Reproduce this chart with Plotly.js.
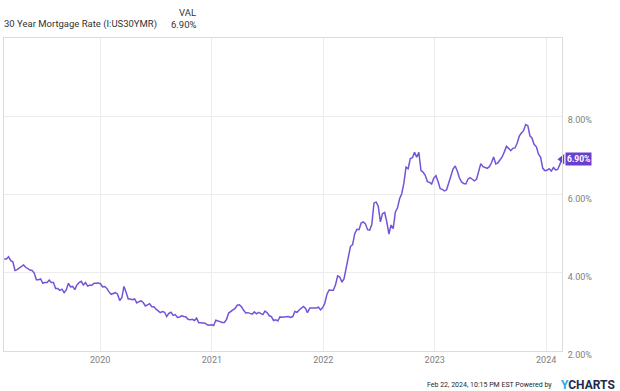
<!DOCTYPE html>
<html>
<head>
<meta charset="utf-8">
<script src="https://cdn.plot.ly/plotly-3.0.1.min.js"></script>
<style>
html,body{margin:0;padding:0;background:#fff;}
#chart{width:620px;height:391px;}
</style>
</head>
<body>
<div id="chart"></div>
<script>
// Weekly 30 Year Mortgage Rate (%), Feb 2019 - Feb 2024
const dates2019 = ["2019-02-21","2019-02-28","2019-03-07","2019-03-14","2019-03-21","2019-03-28","2019-04-04","2019-04-11","2019-04-18","2019-04-25","2019-05-02","2019-05-09","2019-05-16","2019-05-23","2019-05-30","2019-06-06","2019-06-13","2019-06-20","2019-06-27","2019-07-03","2019-07-11","2019-07-18","2019-07-25","2019-08-01","2019-08-08","2019-08-15","2019-08-22","2019-08-29","2019-09-05","2019-09-12","2019-09-19","2019-09-26","2019-10-03","2019-10-10","2019-10-17","2019-10-24","2019-10-31","2019-11-07","2019-11-14","2019-11-21","2019-11-27","2019-12-05","2019-12-12","2019-12-19","2019-12-26"];
const rates2019 = [4.35,4.35,4.41,4.31,4.28,4.06,4.08,4.12,4.17,4.20,4.14,4.10,4.07,4.06,3.99,3.82,3.82,3.84,3.73,3.75,3.75,3.81,3.75,3.75,3.60,3.60,3.55,3.58,3.49,3.56,3.73,3.64,3.65,3.57,3.69,3.75,3.78,3.69,3.75,3.66,3.68,3.68,3.73,3.73,3.74];

const dates2020 = ["2020-01-02","2020-01-09","2020-01-16","2020-01-23","2020-01-30","2020-02-06","2020-02-13","2020-02-20","2020-02-27","2020-03-05","2020-03-12","2020-03-19","2020-03-26","2020-04-02","2020-04-09","2020-04-16","2020-04-23","2020-04-30","2020-05-07","2020-05-14","2020-05-21","2020-05-28","2020-06-04","2020-06-11","2020-06-18","2020-06-25","2020-07-02","2020-07-09","2020-07-16","2020-07-23","2020-07-30","2020-08-06","2020-08-13","2020-08-20","2020-08-27","2020-09-03","2020-09-10","2020-09-17","2020-09-24","2020-10-01","2020-10-08","2020-10-15","2020-10-22","2020-10-29","2020-11-05","2020-11-12","2020-11-19","2020-11-25","2020-12-03","2020-12-10","2020-12-17","2020-12-23","2020-12-30"];
const rates2020 = [3.72,3.64,3.65,3.60,3.51,3.45,3.47,3.49,3.45,3.29,3.36,3.65,3.50,3.33,3.33,3.31,3.33,3.23,3.26,3.28,3.24,3.15,3.18,3.21,3.13,3.13,3.07,3.03,2.98,3.01,2.99,2.88,2.96,2.99,2.91,2.93,2.86,2.87,2.90,2.88,2.87,2.81,2.80,2.81,2.78,2.84,2.72,2.72,2.71,2.71,2.67,2.66,2.67];

const dates2021 = ["2021-01-07","2021-01-14","2021-01-21","2021-01-28","2021-02-04","2021-02-11","2021-02-18","2021-02-25","2021-03-04","2021-03-11","2021-03-18","2021-03-25","2021-04-01","2021-04-08","2021-04-15","2021-04-22","2021-04-29","2021-05-06","2021-05-13","2021-05-20","2021-05-27","2021-06-03","2021-06-10","2021-06-17","2021-06-24","2021-07-01","2021-07-08","2021-07-15","2021-07-22","2021-07-29","2021-08-05","2021-08-12","2021-08-19","2021-08-26","2021-09-02","2021-09-09","2021-09-16","2021-09-23","2021-09-30","2021-10-07","2021-10-14","2021-10-21","2021-10-28","2021-11-04","2021-11-10","2021-11-18","2021-11-24","2021-12-02","2021-12-09","2021-12-16","2021-12-23","2021-12-30"];
const rates2021 = [2.65,2.79,2.77,2.73,2.73,2.73,2.81,2.97,3.02,3.05,3.09,3.17,3.18,3.13,3.04,2.97,2.98,2.96,2.94,3.00,2.95,2.99,2.96,2.93,3.02,2.98,2.90,2.88,2.78,2.80,2.77,2.87,2.86,2.87,2.87,2.88,2.86,2.88,3.01,2.99,3.05,3.09,3.14,3.09,2.98,3.10,3.10,3.11,3.10,3.12,3.05,3.11];

const dates2022 = ["2022-01-06","2022-01-13","2022-01-20","2022-01-27","2022-02-03","2022-02-10","2022-02-17","2022-02-24","2022-03-03","2022-03-10","2022-03-17","2022-03-24","2022-03-31","2022-04-07","2022-04-14","2022-04-21","2022-04-28","2022-05-05","2022-05-12","2022-05-19","2022-05-26","2022-06-02","2022-06-09","2022-06-16","2022-06-23","2022-06-30","2022-07-07","2022-07-14","2022-07-21","2022-07-28","2022-08-04","2022-08-11","2022-08-18","2022-08-25","2022-09-01","2022-09-08","2022-09-15","2022-09-22","2022-09-29","2022-10-06","2022-10-13","2022-10-20","2022-10-27","2022-11-03","2022-11-10","2022-11-17","2022-11-23","2022-12-01","2022-12-08","2022-12-15","2022-12-22","2022-12-29"];
const rates2022 = [3.22,3.45,3.56,3.55,3.55,3.69,3.92,3.89,3.76,3.85,4.16,4.42,4.67,4.72,5.00,5.11,5.10,5.27,5.30,5.25,5.10,5.09,5.23,5.78,5.81,5.70,5.30,5.51,5.54,5.30,4.99,5.22,5.13,5.55,5.66,5.89,6.02,6.29,6.70,6.66,6.92,6.94,7.08,6.95,7.08,6.61,6.58,6.49,6.33,6.31,6.27,6.42];

const dates2023 = ["2023-01-05","2023-01-12","2023-01-19","2023-01-26","2023-02-02","2023-02-09","2023-02-16","2023-02-23","2023-03-02","2023-03-09","2023-03-16","2023-03-23","2023-03-30","2023-04-06","2023-04-13","2023-04-20","2023-04-27","2023-05-04","2023-05-11","2023-05-18","2023-05-25","2023-06-01","2023-06-08","2023-06-15","2023-06-22","2023-06-29","2023-07-06","2023-07-13","2023-07-20","2023-07-27","2023-08-03","2023-08-10","2023-08-17","2023-08-24","2023-08-31","2023-09-07","2023-09-14","2023-09-21","2023-09-28","2023-10-05","2023-10-12","2023-10-19","2023-10-26","2023-11-02","2023-11-09","2023-11-16","2023-11-22","2023-11-30","2023-12-07","2023-12-14","2023-12-21","2023-12-28"];
const rates2023 = [6.48,6.33,6.15,6.13,6.09,6.12,6.32,6.50,6.65,6.73,6.60,6.42,6.32,6.28,6.27,6.39,6.43,6.39,6.35,6.39,6.57,6.79,6.71,6.69,6.67,6.71,6.81,6.96,6.78,6.81,6.90,6.96,7.09,7.23,7.18,7.12,7.18,7.19,7.31,7.49,7.57,7.63,7.79,7.76,7.50,7.44,7.29,7.22,7.03,6.95,6.67,6.61];

const dates2024 = ["2024-01-04","2024-01-11","2024-01-18","2024-01-25","2024-02-01","2024-02-08","2024-02-15","2024-02-22"];
const rates2024 = [6.62,6.66,6.60,6.69,6.63,6.64,6.77,6.90];

const yTicks = [2, 4, 6, 8];
const seriesName = "30 Year Mortgage Rate (I:US30YMR)";
const footerText = "Feb 22, 2024, 10:15 PM EST Powered by";

const dates = [].concat(dates2019, dates2020, dates2021, dates2022, dates2023, dates2024);
const rates = [].concat(rates2019, rates2020, rates2021, rates2022, rates2023, rates2024);
const lastDate = dates[dates.length - 1];
const lastRate = rates[rates.length - 1];
const lastLabel = lastRate.toFixed(2) + "%";

const lineColor = "#7453d8";
const badgeColor = "#6a3fce";

const traces = [
  {
    x: dates, y: rates, type: "scatter", mode: "lines",
    line: {color: lineColor, width: 1.5},
    hoverinfo: "skip", showlegend: false
  },
  {
    x: [lastDate], y: [lastRate], type: "scatter", mode: "markers",
    marker: {symbol: "triangle-left", size: 9, color: badgeColor},
    cliponaxis: false, hoverinfo: "skip", showlegend: false
  }
];

const layout = {
  width: 620, height: 391,
  margin: {l: 4, r: 58, t: 38, b: 40, pad: 0},
  paper_bgcolor: "#ffffff", plot_bgcolor: "#ffffff",
  font: {family: "Roboto, 'Liberation Sans', sans-serif", size: 10, color: "#808080"},
  showlegend: false,
  xaxis: {
    type: "date",
    range: ["2019-02-20", "2024-02-22"],
    tick0: "2020-01-01", dtick: "M12", tickformat: "%Y",
    showgrid: true, gridcolor: "#ececec", gridwidth: 1,
    showline: true, linecolor: "#dcdcdc", linewidth: 1, mirror: true,
    ticks: "", zeroline: false, automargin: false,
    tickfont: {size: 9, color: "#808080"}
  },
  yaxis: {
    range: [2, 10], side: "right",
    tickvals: yTicks, ticktext: yTicks.map(v => v.toFixed(2) + "%"),
    showgrid: true, gridcolor: "#ececec", gridwidth: 1,
    showline: true, linecolor: "#dcdcdc", linewidth: 1, mirror: true,
    ticks: "", zeroline: false, automargin: false,
    ticklabelshift: 4, ticklabelstandoff: 3,
    tickfont: {size: 9, color: "#808080"}
  },
  annotations: [
    {
      text: seriesName, xref: "paper", yref: "paper", x: 0, y: 1,
      xanchor: "left", yanchor: "middle", xshift: -2, yshift: 14,
      showarrow: false, font: {size: 9.5, color: "#333333"}
    },
    {
      text: "VAL", xref: "paper", yref: "paper", x: 0, y: 1,
      xanchor: "right", yanchor: "middle", xshift: 194, yshift: 26,
      showarrow: false, font: {size: 9.5, color: "#333333"}
    },
    {
      text: lastLabel, xref: "paper", yref: "paper", x: 0, y: 1,
      xanchor: "right", yanchor: "middle", xshift: 195, yshift: 14,
      showarrow: false, font: {size: 9.5, color: "#333333"}
    },
    {
      text: "<b>" + lastLabel + "</b>", xref: "x", yref: "y", x: lastDate, y: lastRate,
      xanchor: "left", yanchor: "middle", xshift: 3,
      showarrow: false, bgcolor: badgeColor, borderpad: 1,
      font: {size: 8.5, color: "#ffffff"}
    },
    {
      text: footerText, xref: "paper", yref: "paper", x: 1, y: 0,
      xanchor: "right", yanchor: "middle", xshift: -8, yshift: -34,
      showarrow: false, font: {size: 7, color: "#1f1f1f"}
    },
    {
      text: "<b><span style='color:#2aa7e6'>Y</span>CHARTS</b>", xref: "paper", yref: "paper", x: 1, y: 0,
      xanchor: "right", yanchor: "middle", xshift: 54, yshift: -34,
      showarrow: false, borderpad: 0, font: {size: 12, color: "#1d2b4f"}
    }
  ]
};

Plotly.newPlot("chart", traces, layout, {displayModeBar: false, staticPlot: true});
</script>
</body>
</html>
